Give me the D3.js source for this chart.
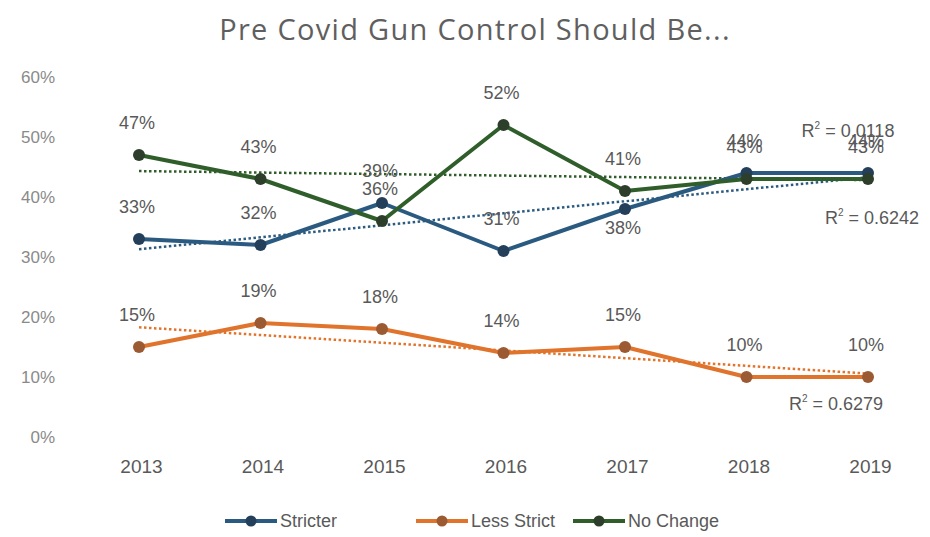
<!DOCTYPE html>
<html>
<head>
<meta charset="utf-8">
<script src="https://cdn.jsdelivr.net/npm/d3@7"></script>
<style>
  html, body { margin: 0; padding: 0; background: #ffffff; }
  svg { display: block; }
</style>
</head>
<body>
<svg id="chart" width="930" height="537"></svg>
<script>
// Survey years and shares (%) answering each option
const years = ["2013", "2014", "2015", "2016", "2017", "2018", "2019"];
const stricter = [33, 32, 39, 31, 38, 44, 44];
const lessStrict = [15, 19, 18, 14, 15, 10, 10];
const noChange = [47, 43, 36, 52, 41, 43, 43];
const yTicks = [0, 10, 20, 30, 40, 50, 60];
const titleText = "Pre Covid Gun Control Should Be...";

const series = [
  { name: "Stricter", values: stricter, color: "#2b5a80", marker: "#243f5a", r2pos: [872, 224] },
  { name: "Less Strict", values: lessStrict, color: "#e0742c", marker: "#9c5a33", r2pos: [836, 410] },
  { name: "No Change", values: noChange, color: "#2f5e2a", marker: "#2d3f2b", r2pos: [848, 137] }
];

// Labels drawn beneath their point rather than above (series name -> year index)
const labelsBelow = { "Stricter": [4] };

const svg = d3.select("#chart");
const fontFace = "'Liberation Sans', Arial, sans-serif";

const x = d3.scalePoint().domain(years).range([139, 868]);
const y = d3.scaleLinear().domain([0, 60]).range([437, 77]);

// Title
svg.append("text")
  .attr("x", 475).attr("y", 40)
  .attr("text-anchor", "middle")
  .attr("font-family", "'Open Sans', sans-serif")
  .attr("font-size", 29)
  .attr("letter-spacing", 1.3)
  .attr("fill", "#5f5f5f")
  .text(titleText);

// Y axis labels (no axis line, no gridlines)
const yAxis = d3.axisLeft(y).tickValues(yTicks).tickFormat(d => d + "%").tickSize(0).tickPadding(0);
const yg = svg.append("g").attr("transform", "translate(55,0)").call(yAxis);
yg.select(".domain").remove();
yg.selectAll("text").attr("font-family", fontFace).attr("font-size", 17).attr("fill", "#8a8a8a");

// X axis labels
const xAxis = d3.axisBottom(x).tickSize(0).tickPadding(0);
const xg = svg.append("g").attr("transform", "translate(2,459)").call(xAxis);
xg.select(".domain").remove();
xg.selectAll("text").attr("font-family", fontFace).attr("font-size", 19).attr("fill", "#595959");

const line = d3.line().x((d, i) => x(years[i])).y(d => y(d));

// Least-squares linear trend for each series
function fit(vals) {
  const xs = vals.map((_, i) => i + 1);
  const mx = d3.mean(xs), my = d3.mean(vals);
  let sxy = 0, sxx = 0, syy = 0;
  vals.forEach((v, i) => {
    sxy += (xs[i] - mx) * (v - my);
    sxx += (xs[i] - mx) ** 2;
    syy += (v - my) ** 2;
  });
  const slope = sxy / sxx;
  const icpt = my - slope * mx;
  return { pts: xs.map(t => icpt + slope * t), r2: (sxy * sxy) / (sxx * syy) };
}

// Trend lines (dotted)
series.forEach(s => {
  s.fit = fit(s.values);
  svg.append("path")
    .datum(s.fit.pts)
    .attr("d", line)
    .attr("fill", "none")
    .attr("stroke", s.color)
    .attr("stroke-width", 2.5)
    .attr("stroke-dasharray", "2.5 2.5");
});

// Series lines and markers
series.forEach(s => {
  svg.append("path")
    .datum(s.values)
    .attr("d", line)
    .attr("fill", "none")
    .attr("stroke", s.color)
    .attr("stroke-width", 4)
    .attr("stroke-linejoin", "round");
  svg.selectAll(null)
    .data(s.values)
    .join("circle")
    .attr("cx", (d, i) => x(years[i]))
    .attr("cy", d => y(d))
    .attr("r", 6)
    .attr("fill", s.marker);
});

// Data labels
series.forEach(s => {
  const below = labelsBelow[s.name] || [];
  svg.selectAll(null)
    .data(s.values)
    .join("text")
    .attr("x", (d, i) => x(years[i]) - 2)
    .attr("y", (d, i) => below.includes(i) ? y(d) + 25 : y(d) - 26)
    .attr("text-anchor", "middle")
    .attr("font-family", fontFace)
    .attr("font-size", 18)
    .attr("fill", "#595959")
    .text(d => d + "%");
});

// R² labels for the trend lines
series.forEach(s => {
  const t = svg.append("text")
    .attr("x", s.r2pos[0]).attr("y", s.r2pos[1])
    .attr("text-anchor", "middle")
    .attr("font-family", fontFace)
    .attr("font-size", 18)
    .attr("fill", "#595959");
  t.append("tspan").text("R");
  t.append("tspan").attr("dy", -8).attr("font-size", 10).text("2");
  t.append("tspan").attr("dy", 8).text(" = " + s.fit.r2.toFixed(4));
});

// Legend
const legendX = [225, 416, 573];
series.forEach((s, i) => {
  const g = svg.append("g").attr("transform", `translate(${legendX[i]},521)`);
  g.append("line").attr("x1", 0).attr("x2", 52).attr("y1", 0).attr("y2", 0)
    .attr("stroke", s.color).attr("stroke-width", 4);
  g.append("circle").attr("cx", 26).attr("cy", 0).attr("r", 5.5).attr("fill", s.marker);
  g.append("text").attr("x", 55).attr("y", 6)
    .attr("font-family", fontFace).attr("font-size", 18).attr("fill", "#595959")
    .text(s.name);
});
</script>
</body>
</html>
